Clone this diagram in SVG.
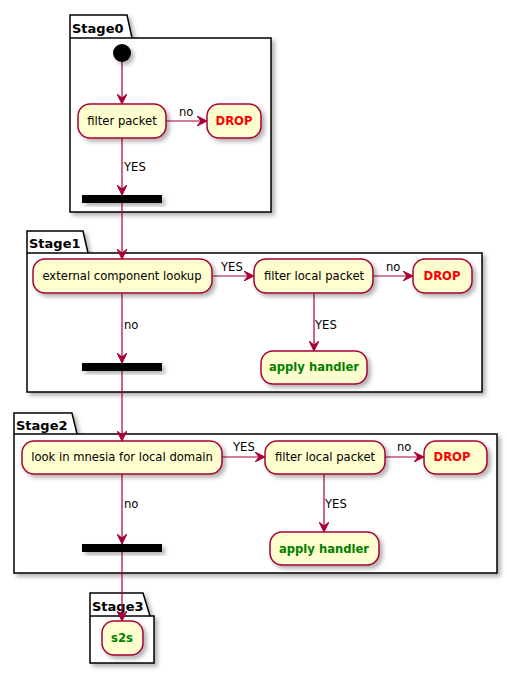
<svg xmlns="http://www.w3.org/2000/svg" width="507" height="674" viewBox="0 0 507 674">
<defs>
<filter id="sh" x="-20%" y="-20%" width="150%" height="160%">
<feDropShadow dx="3" dy="3" stdDeviation="2" flood-color="#000" flood-opacity="0.3"/>
</filter>
<marker id="ah" markerWidth="10" markerHeight="10" refX="10" refY="5" orient="auto" markerUnits="userSpaceOnUse">
<path d="M0,0 L10,5 L0,10 L4,5 Z" fill="#A80036" stroke="#A80036" stroke-width="1"/>
</marker>
<style>
.pkg{fill:#fff;stroke:#000;stroke-width:1.5}
.pt{font-family:"DejaVu Sans",sans-serif;font-size:13px;font-weight:bold;fill:#000}
.n{fill:#FEFECE;stroke:#A80036;stroke-width:1.5}
.t{font-family:"DejaVu Sans",sans-serif;font-size:11.6px;fill:#000;text-anchor:middle}
.red{fill:#FF0000;font-weight:bold}
.grn{fill:#008000;font-weight:bold}
.lb{font-family:"DejaVu Sans",sans-serif;font-size:11.6px;fill:#000}
.e{stroke:#A80036;stroke-width:1.2;fill:none}
.bar{fill:#000}
</style>
</defs>

<g id="Stage0" filter="url(#sh)">
<path class="pkg" d="M70,15 H127 L132,38 H271 V212 H70 Z"/>
<path class="pkg" d="M70,38 H132" fill="none"/>
</g>
<text class="pt" x="72" y="33">Stage0</text>
<g id="Stage1" filter="url(#sh)">
<path class="pkg" d="M27,231 H83 L88,253 H482 V392 H27 Z"/>
<path class="pkg" d="M27,253 H88" fill="none"/>
</g>
<text class="pt" x="29" y="248">Stage1</text>
<g id="Stage2" filter="url(#sh)">
<path class="pkg" d="M14,413 H72 L77,434 H497 V573 H14 Z"/>
<path class="pkg" d="M14,434 H77" fill="none"/>
</g>
<text class="pt" x="16" y="430">Stage2</text>
<g id="Stage3" filter="url(#sh)">
<path class="pkg" d="M90,593 H143 L150,616 H154 V663 H90 Z"/>
<path class="pkg" d="M90,616 H150" fill="none"/>
</g>
<text class="pt" x="92" y="611">Stage3</text>

<g id="connectors">
<path class="e" d="M122,61 V104" marker-end="url(#ah)"/>
<path class="e" d="M166,121 H207" marker-end="url(#ah)"/>
<path class="e" d="M122,138 V195" marker-end="url(#ah)"/>
<path class="e" d="M122,203 V259" marker-end="url(#ah)"/>
<path class="e" d="M212,276 H254" marker-end="url(#ah)"/>
<path class="e" d="M373,276 H413" marker-end="url(#ah)"/>
<path class="e" d="M314,293 V351" marker-end="url(#ah)"/>
<path class="e" d="M122,293 V363" marker-end="url(#ah)"/>
<path class="e" d="M122,371 V441" marker-end="url(#ah)"/>
<path class="e" d="M222,457 H265" marker-end="url(#ah)"/>
<path class="e" d="M385,457 H424" marker-end="url(#ah)"/>
<path class="e" d="M324,474 V532" marker-end="url(#ah)"/>
<path class="e" d="M122,474 V544" marker-end="url(#ah)"/>
<path class="e" d="M122,552 V621" marker-end="url(#ah)"/>
<text class="lb" x="179" y="116">no</text>
<text class="lb" x="124" y="171">YES</text>
<text class="lb" x="221" y="271">YES</text>
<text class="lb" x="386" y="271">no</text>
<text class="lb" x="124" y="329">no</text>
<text class="lb" x="315" y="329">YES</text>
<text class="lb" x="233" y="451">YES</text>
<text class="lb" x="397" y="451">no</text>
<text class="lb" x="124" y="508">no</text>
<text class="lb" x="325" y="508">YES</text>
</g>

<g id="start"><circle cx="122" cy="53" r="9" fill="#000" filter="url(#sh)"/></g>
<g id="filter0"><rect class="n" x="78" y="104" width="88" height="34" rx="12" filter="url(#sh)"/><text class="t" x="122" y="125">filter packet</text></g>
<g id="drop0"><rect class="n" x="207" y="104" width="54" height="34" rx="12" filter="url(#sh)"/><text class="t red" x="234" y="125">DROP</text></g>
<g id="bar0"><rect class="bar" x="82" y="195" width="80" height="8" filter="url(#sh)"/></g>

<g id="ext"><rect class="n" x="33" y="259" width="179" height="34" rx="12" filter="url(#sh)"/><text class="t" x="122" y="280">external component lookup</text></g>
<g id="filter1"><rect class="n" x="254" y="259" width="119" height="34" rx="12" filter="url(#sh)"/><text class="t" x="314" y="280">filter local packet</text></g>
<g id="drop1"><rect class="n" x="413" y="259" width="59" height="34" rx="12" filter="url(#sh)"/><text class="t red" x="442" y="280">DROP</text></g>
<g id="handler1"><rect class="n" x="261" y="351" width="106" height="33" rx="12" filter="url(#sh)"/><text class="t grn" x="314" y="371">apply handler</text></g>
<g id="bar1"><rect class="bar" x="82" y="363" width="80" height="8" filter="url(#sh)"/></g>

<g id="mnesia"><rect class="n" x="22" y="441" width="200" height="33" rx="12" filter="url(#sh)"/><text class="t" x="122" y="461">look in mnesia for local domain</text></g>
<g id="filter2"><rect class="n" x="265" y="441" width="120" height="33" rx="12" filter="url(#sh)"/><text class="t" x="325" y="461">filter local packet</text></g>
<g id="drop2"><rect class="n" x="424" y="441" width="63" height="33" rx="12" filter="url(#sh)"/><text class="t red" x="452" y="461">DROP</text></g>
<g id="handler2"><rect class="n" x="270" y="532" width="109" height="33" rx="12" filter="url(#sh)"/><text class="t grn" x="324" y="553">apply handler</text></g>
<g id="bar2"><rect class="bar" x="82" y="544" width="80" height="8" filter="url(#sh)"/></g>

<g id="s2s"><rect class="n" x="102" y="621" width="41" height="34" rx="12" filter="url(#sh)"/><text class="t grn" x="122" y="642">s2s</text></g>
</svg>
